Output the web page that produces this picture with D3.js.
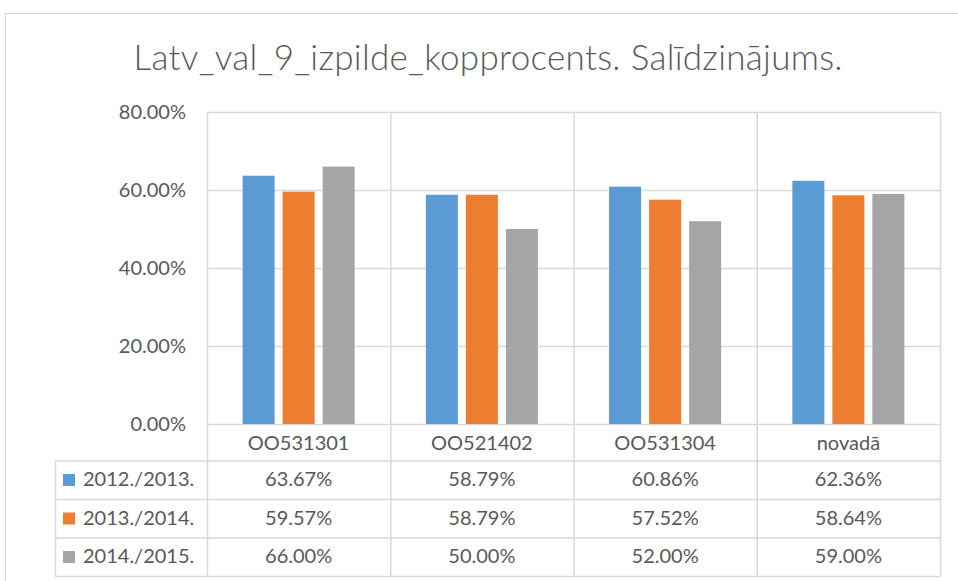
<!DOCTYPE html>
<html>
<head>
<meta charset="UTF-8">
<title>Latv_val_9_izpilde_kopprocents</title>
<script src="https://d3js.org/d3.v7.min.js"></script>
<style>
  body { margin: 0; background: #fff; }
  svg text { font-family: Lato, "Open Sans", sans-serif; fill: #595959; }
</style>
</head>
<body>
<svg id="chart"></svg>
<script>
// data
var categories = ["OO531301", "OO521402", "OO531304", "novadā"];
var seriesNames = ["2012./2013.", "2013./2014.", "2014./2015."];
var v2012 = [63.67, 58.79, 60.86, 62.36];
var v2013 = [59.57, 58.79, 57.52, 58.64];
var v2014 = [66.00, 50.00, 52.00, 59.00];
var yTicks = [0, 20, 40, 60, 80];
var colors = ["#5B9BD5", "#ED7D31", "#A5A5A5"];

var series = [v2012, v2013, v2014];
var width = 958, height = 581;
var grid = "#D9D9D9";

var svg = d3.select("#chart").attr("width", width).attr("height", height);

// outer frame
svg.append("rect")
  .attr("x", 5.5).attr("y", 13.5)
  .attr("width", 960).attr("height", 580)
  .attr("fill", "none").attr("stroke", grid);

// title
svg.append("text")
  .attr("x", 488).attr("y", 70)
  .attr("text-anchor", "middle")
  .attr("textLength", 709)
  .attr("lengthAdjust", "spacing")
  .style("font-size", "35px")
  .style("font-weight", 300)
  .text("Latv_val_9_izpilde_kopprocents. Salīdzinājums.");

var plotL = 207, plotR = 940, plotT = 112, plotB = 424;
var tableL = 55, rowH = 38.5, catRowB = 461;

var x = d3.scaleBand().domain(categories).range([plotL, plotR]);
var y = d3.scaleLinear().domain([0, 80]).range([plotB, plotT]);
var xs = d3.scaleBand().domain(d3.range(series.length))
  .range([0, x.bandwidth()]).paddingInner(0.2).paddingOuter(0.89);

// horizontal gridlines
svg.append("g").selectAll("line").data(yTicks).enter().append("line")
  .attr("x1", plotL).attr("x2", plotR)
  .attr("y1", function(d) { return y(d) + 0.5; })
  .attr("y2", function(d) { return y(d) + 0.5; })
  .attr("stroke", grid).attr("stroke-width", 1.5);

// y tick labels
svg.append("g").selectAll("text").data(yTicks).enter().append("text")
  .attr("x", 186).attr("y", function(d) { return y(d) + 7; })
  .attr("text-anchor", "end")
  .style("font-size", "20px")
  .text(function(d) { return d3.format(".2f")(d) + "%"; });

// bars
var groups = svg.append("g").selectAll("g").data(series).enter().append("g")
  .attr("fill", function(d, i) { return colors[i]; });
groups.each(function(vals, si) {
  d3.select(this).selectAll("rect").data(vals).enter().append("rect")
    .attr("x", function(d, ci) { return x(categories[ci]) + xs(si); })
    .attr("width", xs.bandwidth())
    .attr("y", function(d) { return y(d); })
    .attr("height", function(d) { return y(0) - y(d); });
});

// vertical lines: category dividers through plot and table
var tableB = catRowB + rowH * 3;
var vx = categories.map(function(c) { return x(c); }).concat([plotR]);
svg.append("g").selectAll("line").data(vx).enter().append("line")
  .attr("x1", function(d) { return d + 0.5; }).attr("x2", function(d) { return d + 0.5; })
  .attr("y1", plotT).attr("y2", tableB)
  .attr("stroke", grid).attr("stroke-width", 1.5);

// table horizontal lines
var rowLines = [catRowB, catRowB + rowH, catRowB + 2 * rowH, tableB];
svg.append("g").selectAll("line").data(rowLines).enter().append("line")
  .attr("x1", tableL).attr("x2", plotR)
  .attr("y1", function(d) { return d; }).attr("y2", function(d) { return d; })
  .attr("stroke", grid).attr("stroke-width", 1.5);
svg.append("line")
  .attr("x1", tableL + 0.5).attr("x2", tableL + 0.5)
  .attr("y1", catRowB).attr("y2", tableB)
  .attr("stroke", grid).attr("stroke-width", 1.5);

// category labels
svg.append("g").selectAll("text").data(categories).enter().append("text")
  .attr("x", function(d) { return x(d) + x.bandwidth() / 2; })
  .attr("y", 450)
  .attr("text-anchor", "middle")
  .style("font-size", "20px")
  .text(function(d) { return d; });

// table rows: legend key + values
series.forEach(function(vals, si) {
  var rowY = catRowB + rowH * si;
  svg.append("rect")
    .attr("x", 63).attr("y", rowY + 13)
    .attr("width", 12).attr("height", 12)
    .attr("fill", colors[si]);
  svg.append("text")
    .attr("x", 83).attr("y", rowY + 25)
    .style("font-size", "20px")
    .text(seriesNames[si]);
  svg.append("g").selectAll("text").data(vals).enter().append("text")
    .attr("x", function(d, ci) { return x(categories[ci]) + x.bandwidth() / 2; })
    .attr("y", rowY + 25)
    .attr("text-anchor", "middle")
    .style("font-size", "20px")
    .text(function(d) { return d3.format(".2f")(d) + "%"; });
});
</script>
</body>
</html>
